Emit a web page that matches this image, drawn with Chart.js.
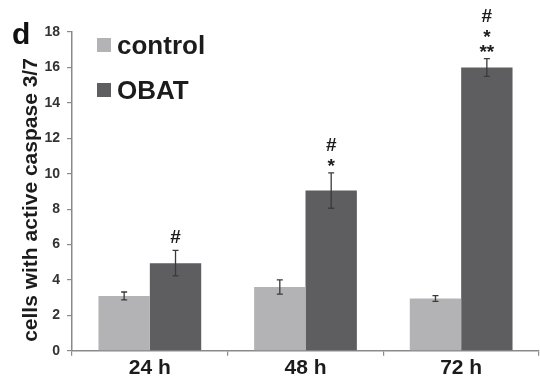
<!DOCTYPE html>
<html>
<head>
<meta charset="utf-8">
<script src="https://cdn.jsdelivr.net/npm/chart.js@4/dist/chart.umd.min.js"></script>
<style>
  html, body { margin: 0; padding: 0; background: #ffffff; }
  #wrap { width: 540px; height: 381px; position: relative; }
</style>
</head>
<body>
<div id="wrap"><canvas id="chart"></canvas></div>
<script>
// Caspase 3/7 activity over time: control vs OBAT
const timepoints = ['24 h', '48 h', '72 h'];
const seriesNames = ['control', 'OBAT'];
const controlMeans = [3.1, 3.6, 2.95];
const controlErrors = [0.22, 0.4, 0.16];
const obatMeans = [4.95, 9.05, 16.0];
const obatErrors = [0.72, 1.0, 0.5];
// significance marks above each OBAT bar, listed from the bottom up
const obatMarks = [['#'], ['*', '#'], ['**', '*', '#']];
const yTicks = [0, 2, 4, 6, 8, 10, 12, 14, 16, 18];
const yTitle = 'cells with active caspase 3/7';
const panelLetter = 'd';

const FONT = '"Liberation Sans", Arial, Helvetica, sans-serif';
const COLORS = ['#b3b3b5', '#5e5e61'];
const AXIS = '#8a8a8a';
const INK = '#1c1c1c';

const errorBars = {
  id: 'errorBars',
  afterDatasetsDraw(chart) {
    const ctx = chart.ctx;
    const y = chart.scales.y;
    const errs = [controlErrors, obatErrors];
    ctx.save();
    ctx.strokeStyle = '#3a3a3a';
    ctx.lineWidth = 1.3;
    chart.data.datasets.forEach((ds, i) => {
      chart.getDatasetMeta(i).data.forEach((bar, j) => {
        const v = ds.data[j], e = errs[i][j];
        const top = y.getPixelForValue(v + e);
        const bot = y.getPixelForValue(v - e);
        const x = bar.x, cap = 3;
        ctx.beginPath();
        ctx.moveTo(x, top); ctx.lineTo(x, bot);
        ctx.moveTo(x - cap, top); ctx.lineTo(x + cap, top);
        ctx.moveTo(x - cap, bot); ctx.lineTo(x + cap, bot);
        ctx.stroke();
      });
    });
    ctx.restore();
  }
};

const sigMarks = {
  id: 'sigMarks',
  afterDatasetsDraw(chart) {
    const ctx = chart.ctx;
    const y = chart.scales.y;
    ctx.save();
    ctx.fillStyle = INK;
    ctx.font = 'bold 19px ' + FONT;
    ctx.textAlign = 'center';
    ctx.textBaseline = 'alphabetic';
    chart.getDatasetMeta(1).data.forEach((bar, j) => {
      const top = y.getPixelForValue(obatMeans[j] + obatErrors[j]);
      let base = null;
      obatMarks[j].forEach(mark => {
        const isHash = mark.indexOf('#') >= 0;
        if (base === null) {
          base = top - (isHash ? 7 : 1);
        } else {
          base -= isHash ? 21 : 15;
        }
        ctx.fillText(mark, bar.x, base);
      });
    });
    ctx.restore();
  }
};

const decorations = {
  id: 'decorations',
  afterDraw(chart) {
    const ctx = chart.ctx;
    ctx.save();
    // panel letter
    ctx.fillStyle = '#111';
    ctx.font = 'bold 30px ' + FONT;
    ctx.textAlign = 'left';
    ctx.textBaseline = 'alphabetic';
    ctx.fillText(panelLetter, 12, 44);
    // vertical axis title
    ctx.save();
    ctx.translate(37, 200);
    ctx.rotate(-Math.PI / 2);
    ctx.font = 'bold 21px ' + FONT;
    ctx.textAlign = 'center';
    ctx.fillStyle = INK;
    ctx.fillText(yTitle, 0, 0);
    ctx.restore();
    // legend
    const rows = [45, 90];
    chart.data.datasets.forEach((ds, i) => {
      const cy = rows[i];
      ctx.fillStyle = ds.backgroundColor;
      ctx.fillRect(97, cy - 7, 14, 14);
      ctx.fillStyle = INK;
      ctx.font = 'bold 26px ' + FONT;
      ctx.textAlign = 'left';
      ctx.fillText(ds.label, 117, cy + 8.5);
    });
    ctx.restore();
  }
};

new Chart(document.getElementById('chart'), {
  type: 'bar',
  data: {
    labels: timepoints,
    datasets: [
      { label: seriesNames[0], data: controlMeans, backgroundColor: COLORS[0] },
      { label: seriesNames[1], data: obatMeans, backgroundColor: COLORS[1] }
    ]
  },
  options: {
    responsive: true,
    maintainAspectRatio: false,
    animation: false,
    devicePixelRatio: 1,
    categoryPercentage: 0.66,
    barPercentage: 1.0,
    layout: { padding: { top: 32, right: 1, bottom: 0, left: 0 } },
    plugins: { legend: { display: false }, tooltip: { enabled: false } },
    scales: {
      x: {
        grid: { offset: true, drawOnChartArea: false, drawTicks: true, tickLength: 5, color: AXIS, lineWidth: 1.2 },
        border: { display: true, color: AXIS, width: 1.5 },
        ticks: { color: INK, padding: 0, font: { family: FONT, size: 21, weight: 'bold' } }
      },
      y: {
        min: 0,
        max: 18,
        afterBuildTicks(scale) { scale.ticks = yTicks.map(v => ({ value: v })); },
        afterFit(scale) { scale.width = 72; },
        grid: { drawOnChartArea: false, drawTicks: true, tickLength: 5, color: AXIS, lineWidth: 1.2 },
        border: { display: true, color: AXIS, width: 1.5 },
        ticks: { color: '#333', padding: 7, font: { family: FONT, size: 14, weight: 'bold' } }
      }
    }
  },
  plugins: [errorBars, sigMarks, decorations]
});
</script>
</body>
</html>
